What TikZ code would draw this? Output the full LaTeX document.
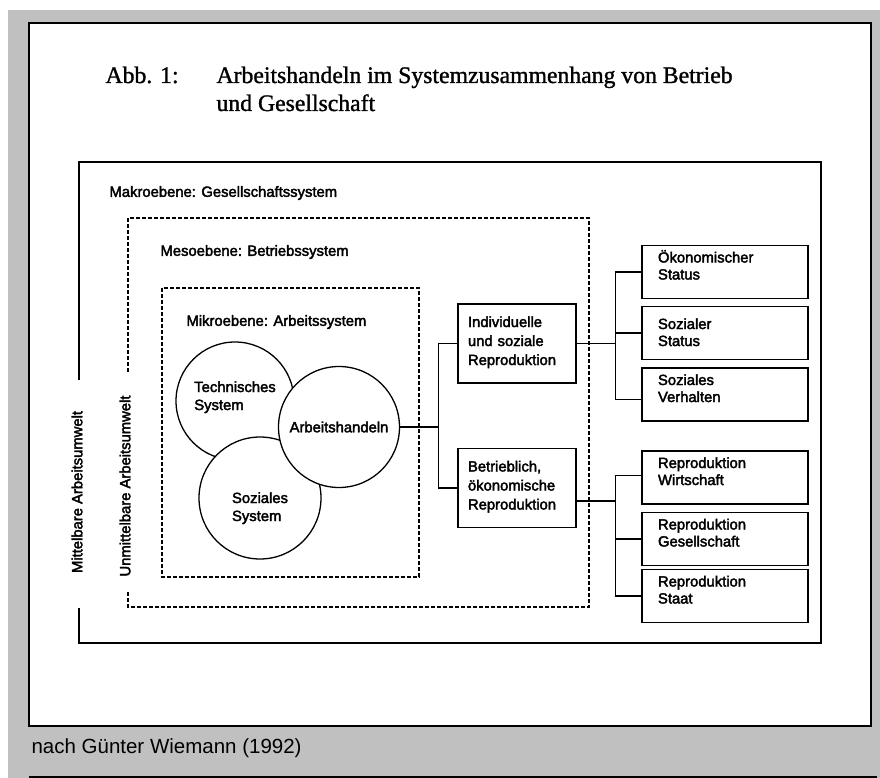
\documentclass[tikz,border=0pt]{standalone}
\usepackage{fontspec}
\setmainfont{Liberation Sans}
\newfontfamily\scanfont{Liberation Sans}[FakeBold=2.5]
\newfontfamily\titlefont{Liberation Serif}[FakeBold=1.2]
\definecolor{bggray}{HTML}{C0C0C0}
\newcommand{\dfont}{\scanfont\fontsize{14.8}{18}\selectfont}
\newcommand{\tfont}{\titlefont\fontsize{23.7}{28}\selectfont}

\begin{document}
\begin{tikzpicture}[x=1pt, y=-1pt, every node/.style={font=\dfont},
	frame/.style={line width=1.6pt},
	dframe/.style={line width=1.2pt, dash pattern=on 4pt off 2pt},
	conn/.style={line width=1.3pt},
	kreis/.style={draw, circle, fill=white, line width=1.3pt, align=left, inner sep=0pt},
	ibox/.style={draw, line width=1.4pt, align=left, text width=98pt, inner xsep=10pt, minimum height=79pt, text height=11pt, text depth=44pt, font=\scanfont\fontsize{14.8}{19}\selectfont},
	box/.style={draw, line width=1.4pt, align=left, text width=134pt, inner xsep=16pt, minimum height=53pt, text height=11pt, text depth=30pt, font=\scanfont\fontsize{14.8}{17}\selectfont}]
	\useasboundingbox (0,0) rectangle (880,778);
	\fill[bggray] (8,10) rectangle (880,778);
	\draw[line width=2pt, fill=white] (29,23) rectangle (871,726);
	\draw[line width=2pt] (29,777) -- (877,777);
	\node[anchor=base west, font=\tfont] (abb) at (102,83) {Abb. 1:};
	\node[anchor=base west, font=\tfont] (titel) at (213,83) {Arbeitshandeln im Systemzusammenhang von Betrieb};
	\node[anchor=base west, font=\tfont] (titelb) at (213,111) {und Gesellschaft};
	\node[anchor=base west, font=\fontsize{20.5}{24}\selectfont] (quelle) at (28,753) {nach Günter Wiemann (1992)};
	\draw[frame] (79,380) -- (79,162) -- (821,162) -- (821,643) -- (79,643) -- (79,608);
	\draw[dframe] (128,372) -- (128,218) -- (589,218) -- (589,607) -- (128,607) -- (128,591);
	\draw[dframe] (162,288) rectangle (419,577);
	\node[anchor=west] (makro) at (106,193) {Makroebene: Gesellschaftssystem};
	\node[anchor=west] (meso) at (157,252) {Mesoebene: Betriebssystem};
	\node[anchor=west] (mikro) at (183,322) {Mikroebene: Arbeitssystem};
	\node[rotate=90] (mittel) at (77,492) {Mittelbare Arbeitsumwelt};
	\node[rotate=90] (unmittel) at (125,486) {Unmittelbare Arbeitsumwelt};
	\node[kreis, minimum size=118pt, text height=29pt, text depth=11pt] (tech) at (235,401) {Technisches\\System};
	\node[kreis, minimum size=122pt, text height=47pt, text depth=1pt] (sozial) at (260,498) {Soziales\\System};
	\node[kreis, minimum size=121pt] (arbeit) at (339,427) {Arbeitshandeln};
	\node[ibox] (indiv) at (517,343.5) {Individuelle\\und soziale\\Reproduktion};
	\node[ibox] (betrieb) at (517,488) {Betrieblich,\\ökonomische\\Reproduktion};
	\node[box] (oekon) at (725,272) {Ökonomischer\\Status};
	\node[box, text depth=19pt] (sozstatus) at (725,333) {Sozialer\\Status};
	\node[box] (verhalten) at (725,394.5) {Soziales\\Verhalten};
	\node[box] (wirtschaft) at (725,477.5) {Reproduktion\\Wirtschaft};
	\node[box] (gesell) at (725,539) {Reproduktion\\Gesellschaft};
	\node[box] (staat) at (725,596) {Reproduktion\\Staat};
	\draw[conn] (arbeit.east) -- ++(38,0) coordinate (jl);
	\draw[conn] (indiv.west) -| (jl) |- (betrieb.west);
	\draw[conn] (indiv.east) -- ++(39,0) coordinate (jr);
	\draw[conn] (oekon.west) -| (jr) |- ([yshift=-5pt]verhalten.west);
	\draw[conn] (sozstatus.west) -- (sozstatus.west -| jr);
	\draw[conn] ([yshift=-13pt]betrieb.east) -- ++(39,0) coordinate (js);
	\draw[conn] ([yshift=2pt]wirtschaft.west) -| (js) |- (staat.west);
	\draw[conn] (gesell.west) -- (gesell.west -| js);
\end{tikzpicture}
\end{document}
